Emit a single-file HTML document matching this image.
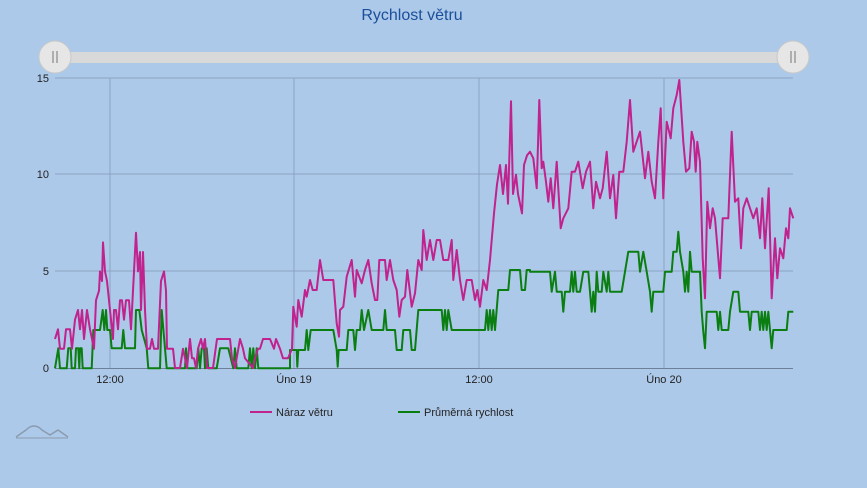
<!DOCTYPE html><html><head><meta charset="utf-8"><style>
body{margin:0;background:#adc9e9;width:867px;height:483px;overflow:hidden;font-family:"Liberation Sans",sans-serif}
</style></head><body>
<svg id="s" width="867" height="483" xmlns="http://www.w3.org/2000/svg" font-family="Liberation Sans, sans-serif">
<rect width="867" height="483" fill="#adc9e9"/>
<text x="412" y="20" text-anchor="middle" font-size="16" fill="#1a4f9a">Rychlost větru</text>
<rect x="55" y="52" width="738" height="11" fill="#d9d9d9"/>
<circle cx="55" cy="57" r="16" fill="#e6e6e6" stroke="#c8c8c8"/>
<circle cx="793" cy="57" r="16" fill="#e6e6e6" stroke="#c8c8c8"/>
<path d="M53 51v12M57 51v12M791 51v12M795 51v12" stroke="#777" stroke-width="1"/>
<g stroke="#8aa3c4" stroke-width="1">
<line x1="55" y1="78" x2="793" y2="78"/><line x1="55" y1="174" x2="793" y2="174"/><line x1="55" y1="271" x2="793" y2="271"/>
<line x1="110" y1="78" x2="110" y2="368"/><line x1="294" y1="78" x2="294" y2="368"/><line x1="479" y1="78" x2="479" y2="368"/><line x1="664" y1="78" x2="664" y2="368"/>
</g>
<line x1="55" y1="368.5" x2="793" y2="368.5" stroke="#6d7f99"/>
<g font-size="11" fill="#222" text-anchor="end">
<text x="49" y="82">15</text><text x="49" y="178">10</text><text x="49" y="275">5</text><text x="49" y="372">0</text></g>
<g font-size="11" fill="#222" text-anchor="middle">
<text x="110" y="383">12:00</text><text x="294" y="383">Úno 19</text><text x="479" y="383">12:00</text><text x="664" y="383">Úno 20</text></g>
<polyline id="g" fill="none" stroke="#0b7e12" stroke-width="2" stroke-linejoin="round"/>
<polyline id="m" fill="none" stroke="#c0228e" stroke-width="2" stroke-linejoin="round"/>
<line x1="250" y1="412" x2="272" y2="412" stroke="#c0228e" stroke-width="2"/>
<text x="276" y="416" font-size="11" fill="#222">Náraz větru</text>
<line x1="398" y1="412" x2="420" y2="412" stroke="#0b7e12" stroke-width="2"/>
<text x="424" y="416" font-size="11" fill="#222">Průměrná rychlost</text>
<path d="M16 437 L26 430 Q34 422 42 430 L50 435 L58 430 L68 437" fill="none" stroke="#8a9bb0" stroke-width="1.5"/>
<line x1="16" y1="438" x2="68" y2="438" stroke="#8a9bb0"/>
</svg>
<script>
function V(v){return 368-v*19.33}
var pts=[];
var m1=[55,1.5,58,2,60,1,64,1,66,2,70,2,72,1,75,2.5,78,3,80,2,82,3,84,1.5,87,3,90,2,92,1.5,94,1,96,3.5,99,4,100,5,102,4.5,103,6.5,105,5,107,4.5,110,3,113,1.5,114,3,116,3,118,2,120,3.5,122,3.5,124,2.5,126,3.5,129,3.5,131,2,134,5,136,7,138,5,140,6,141,3,143,6,145,3,147,1,150,1,152,1.5,154,1,158,1,161,4.5,164,5,166,4,167,1,170,1,173,1,175,0,180,0,183,1,185,0.5,187,0,190,1.5,192,0.5,194,0.5,196,0,198,1,201,1.5,203,1,205,1.5,207,0,213,0,217,1.5,225,1.5,230,1.5,232,0.5,235,0,240,1.5,243,1,245,0.5,253,0,255,0.5,258,1,260,1,263,1.5,270,1.5,274,1,276,1.5,280,1,283,0.5,288,0.5,292,1];
for(var i=0;i<m1.length;i+=2)pts.push([m1[i],V(m1[i+1])]);
var z2=[10,320,20,380,25,300,35,350,45,270,50,290,60,240,68,270,80,270,90,180,100,240,130,240,140,370,147,410,150,330,160,320,170,230,185,180,195,290,200,210,215,250,225,210,235,180,245,250,255,300,262,300,268,180,285,180,290,240,300,180,310,240,320,270,328,350,335,300,345,290,352,210,365,320,375,280,385,180,395,210,400,90,410,180,420,120,430,180,440,120,450,120,460,180,475,180,485,120,490,240,500,150,510,240,520,300,530,240,545,240,555,300,562,270,570,320,580,240,590,270,600,180];
for(i=0;i<z2.length;i+=2)pts.push([290+z2[i]/3,200+z2[i+1]/3]);
var m3=[494,8,497,9.5,500,10.5,503,9,506,10.5,508,8.5,511,13.8,513,9,516,10,518,9,522,8,524,10.5,527,11];
for(i=0;i<m3.length;i+=2)pts.push([m3[i],V(m3[i+1])]);
var z3=[0,230,10,250,20,340,28,75,35,280,40,260,48,320,55,380,62,310,70,400,80,260,92,460,100,430,115,400,125,290,135,290,145,260,158,340,168,290,180,260,190,400,198,320,210,370,218,340,230,230,240,370,250,300,258,430,268,290,280,290,290,200,300,75,310,230,330,170,345,310,355,230,365,320,375,370,385,200,392,100,400,370,410,140,422,190,430,100,440,60,448,15,460,200,468,290,478,280,485,170,492,200,497,290,502,200,510,260,518,550,525,670,532,380,540,460,548,400,555,430,570,610,578,430,595,430,605,170,615,380,625,370,633,520,640,400,650,370,660,400,670,430,680,400,690,490,697,370,705,520,716,340,725,670,735,490,742,610,750,520,760,550,768,460,775,490,780,400,790,430];
for(i=0;i<z3.length;i+=2)pts.push([530+z3[i]/3,75+z3[i+1]/3]);
document.getElementById('m').setAttribute('points',pts.map(p=>p[0].toFixed(1)+','+p[1].toFixed(1)).join(' '));
var G=[];
var g1=[15,505,25,445,30,505,50,505,55,445,62,445,65,505,75,505,78,445,85,445,88,505,90,445,95,445,98,505,125,505,130,390,150,390,158,330,163,390,168,330,172,390,180,390,185,445,215,445,220,390,225,445,255,445,258,330,268,330,275,390,290,445,295,505,330,505,335,330,345,445,350,505,405,505,408,445,412,505,440,505,445,445,450,505,455,445,462,445,465,505,470,445,475,505,500,505,510,445,535,445,550,505,555,445,560,505,595,505,600,445,605,505,610,445,615,505,620,445,625,505,650,505,720,505];
for(i=0;i<g1.length;i+=2)G.push([50+g1[i]/3,200+g1[i+1]/3]);
var g2=[0,450,20,450,22,500,25,450,45,450,50,390,55,450,62,390,130,390,140,450,143,500,146,450,170,450,175,390,190,390,195,450,200,390,210,390,215,330,222,390,235,330,245,390,280,390,285,330,290,390,315,390,320,450,335,450,340,390,360,390,365,450,375,450,385,330,455,330,460,390,465,330,470,390,475,330,485,390,585,390,590,330,595,390,600,330,605,390,610,330,615,390,625,270,655,270,660,210,690,210,695,270,705,270,710,210,720,210];
for(i=0;i<g2.length;i+=2)G.push([290+g2[i]/3,200+g2[i+1]/3]);
var g3=[0,590,60,590,65,650,75,590,80,650,95,650,100,710,105,650,120,650,125,590,130,650,135,590,140,650,150,650,160,590,175,590,180,650,185,710,190,650,195,710,200,590,205,650,215,650,220,590,230,650,235,590,240,650,275,650,285,590,295,530,325,530,330,590,340,530,350,590,360,650,365,710,370,650,400,650,405,590,425,590,430,530,440,530,445,470,450,530,460,590,465,650,470,590,475,650,480,530,485,590,510,590,515,710,520,770,525,820,530,710,560,710,565,765,570,710,575,765,595,765,600,710,610,650,625,650,630,710,655,710,660,765,665,710,685,710,690,765,695,710,700,765,705,710,710,765,715,710,720,765,725,820,730,765,770,765,775,710,790,710];
for(i=0;i<g3.length;i+=2)G.push([530+g3[i]/3,75+g3[i+1]/3]);
document.getElementById('g').setAttribute('points',G.map(p=>p[0].toFixed(1)+','+p[1].toFixed(1)).join(' '));
</script>
</body></html>
